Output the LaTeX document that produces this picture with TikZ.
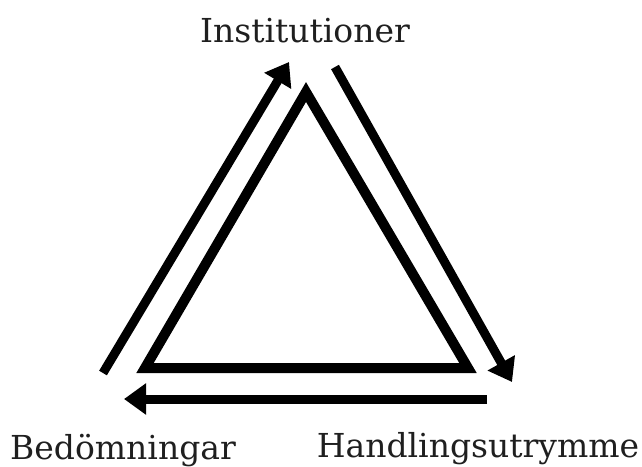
\documentclass[tikz,border=0pt]{standalone}
\usepackage{fontspec}
\setmainfont{DejaVu Serif}
\usetikzlibrary{arrows.meta}
\begin{document}
\begin{tikzpicture}[x=1pt,y=-1pt,
  tri/.style={line width=10pt, line join=miter},
  flow/.style={line width=9pt, -{Triangle[length=22pt,width=30pt]}},
  lab/.style={anchor=base, inner sep=0pt, font=\fontsize{33}{36}\selectfont, text=black!88}]
\useasboundingbox (0,0) rectangle (642,466);
\coordinate (A) at (306,92);
\coordinate (L) at (145,368);
\coordinate (R) at (468,368);
\draw[tri] (A) -- (L) -- (R) -- cycle;
\coordinate (a1) at (103,373);
\coordinate (a2) at (289,62);
\coordinate (b1) at (335,67);
\coordinate (b2) at (512,382);
\coordinate (c1) at (487,399);
\coordinate (c2) at (124,399);
\draw[flow] (a1) -- (a2);
\draw[flow] (b1) -- (b2);
\draw[flow] (c1) -- (c2);
\node[lab] (inst) at (305,42) {Institutioner};
\node[lab] (bed) at (123,459) {Bedömningar};
\node[lab] (hand) at (478,457) {Handlingsutrymme};
\end{tikzpicture}
\end{document}
